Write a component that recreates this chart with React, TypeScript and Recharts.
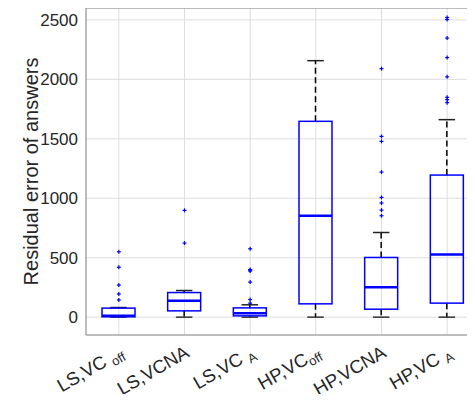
import React from "react";
import {
  ComposedChart,
  Bar,
  Scatter,
  XAxis,
  YAxis,
  CartesianGrid,
  ReferenceLine,
} from "recharts";

// group labels (main text + subscript)
const labelMain: string[] = ["LS,VC ", "LS,VCNA", "LS,VC ", "HP,VC", "HP,VCNA", "HP,VC "];
const labelSub: string[] = ["off", "", "A", "off", "", "A"];

// box statistics
const q1: number[] = [3, 53, 11, 112, 67, 118];
const median: number[] = [11, 137, 32, 853, 252, 527];
const q3: number[] = [76, 207, 78, 1647, 502, 1195];
const whiskerLow: number[] = [0, 0, 0, 0, 0, 0];
const whiskerHigh: number[] = [81, 224, 104, 2157, 712, 1661];

const outliers: number[][] = [
  [145, 195, 270, 420, 550],
  [623, 898],
  [118, 148, 295, 388, 395, 400, 575],
  [],
  [853, 900, 960, 1007, 1220, 1478, 1520, 2090],
  [1804, 1829, 1849, 2021, 2183, 2347, 2503, 2520],
];

const yTicks = [0, 500, 1000, 1500, 2000, 2500];

const data = q1.map((_, i) => ({
  x: i + 1,
  q1: q1[i],
  med: median[i],
  q3: q3[i],
  lo: whiskerLow[i],
  hi: whiskerHigh[i],
}));

const outlierPoints = outliers.flatMap((vals, i) =>
  vals.map((v) => ({ x: i + 1, v }))
);

const FONT = "'Liberation Sans', Arial, Helvetica, sans-serif";

const BoxShape = (props: any) => {
  const { x, y, width, height, payload } = props;
  const top = Math.min(y, y + height);
  const h = Math.abs(height);
  const ppu = h / (payload.q3 - payload.q1);
  const toY = (v: number) => top + (payload.q3 - v) * ppu;
  const cx = x + width / 2;
  const capHalf = width / 4;
  const yHi = toY(payload.hi);
  const yLo = toY(payload.lo);
  const yBottom = top + h;
  return (
    <g>
      <line x1={cx} x2={cx} y1={top} y2={yHi} stroke="#000" strokeWidth={1.5} strokeDasharray="6 3.5" />
      <line x1={cx} x2={cx} y1={yBottom} y2={yLo} stroke="#000" strokeWidth={1.5} strokeDasharray="6 3.5" />
      <line x1={cx - capHalf} x2={cx + capHalf} y1={yHi} y2={yHi} stroke="#222" strokeWidth={1.5} />
      <line x1={cx - capHalf} x2={cx + capHalf} y1={yLo} y2={yLo} stroke="#333" strokeWidth={1.5} />
      <rect x={x} y={top} width={width} height={h} fill="none" stroke="#0000ff" strokeWidth={1.5} />
      <line x1={x} x2={x + width} y1={toY(payload.med)} y2={toY(payload.med)} stroke="#0000ff" strokeWidth={2.5} />
    </g>
  );
};

const PlusShape = (props: any) => {
  const { cx, cy } = props;
  return (
    <g stroke="#0000ff" strokeWidth={1.2}>
      <line x1={cx - 2} x2={cx + 2} y1={cy} y2={cy} />
      <line x1={cx} x2={cx} y1={cy - 2} y2={cy + 2} />
    </g>
  );
};

const XTick = (props: any) => {
  const { x, y, payload } = props;
  const i = payload.value - 1;
  return (
    <g transform={`translate(${x + 6},${y + 13}) rotate(-30)`}>
      <text textAnchor="end" fontSize={18.5} fill="#262626" fontFamily={FONT}>
        {labelMain[i]}
        {labelSub[i] ? (
          <tspan fontSize={13} dy={4}>
            {labelSub[i]}
          </tspan>
        ) : null}
      </text>
    </g>
  );
};

const YLabel = (props: any) => {
  const vb = props.viewBox || { x: 0, y: 8, width: 86, height: 327 };
  const cy = vb.y + vb.height / 2;
  return (
    <text
      transform={`translate(31,${cy}) rotate(-90)`}
      textAnchor="middle"
      dominantBaseline="central"
      fontSize={20}
      fill="#262626"
      fontFamily={FONT}
    >
      Residual error of answers
    </text>
  );
};

export default function App() {
  return (
    <div style={{ width: 475, height: 402, overflow: "hidden", margin: -8, background: "#fff" }}>
      <ComposedChart
        width={490}
        height={402}
        data={data}
        margin={{ top: 8, right: 10, left: 0, bottom: 0 }}
      >
        <CartesianGrid stroke="#dedede" strokeWidth={1} />
        <XAxis
          dataKey="x"
          type="number"
          domain={[0.5, 6.5]}
          ticks={[1, 2, 3, 4, 5, 6]}
          height={67}
          tickLine={false}
          axisLine={{ stroke: "#8a8a8a" }}
          tick={<XTick />}
          interval={0}
        />
        <YAxis
          type="number"
          domain={[-150, 2600]}
          ticks={yTicks}
          width={86}
          tickLine={false}
          axisLine={{ stroke: "#8a8a8a" }}
          tick={{ fontSize: 17, fill: "#262626", fontFamily: FONT }}
          label={<YLabel />}
        />
        <ReferenceLine y={2600} stroke="#8a8a8a" />
        <Bar
          dataKey={(d: any) => [d.q1, d.q3]}
          barSize={33}
          shape={<BoxShape />}
          isAnimationActive={false}
        />
        <Scatter
          data={outlierPoints}
          dataKey="v"
          shape={<PlusShape />}
          isAnimationActive={false}
        />
      </ComposedChart>
    </div>
  );
}
